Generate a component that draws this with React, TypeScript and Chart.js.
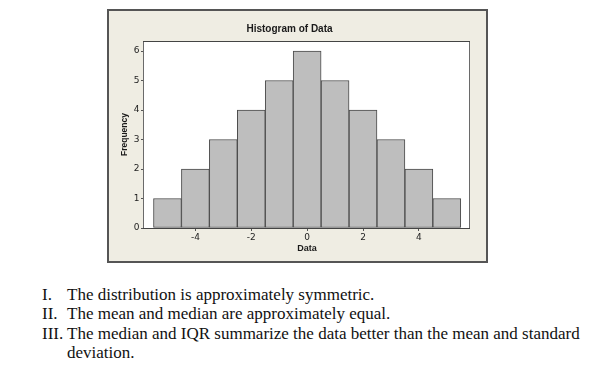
import React, { useEffect, useRef } from "react";
import { Chart, registerables } from "chart.js";

Chart.register(...registerables);

const binCenters = [-5, -4, -3, -2, -1, 0, 1, 2, 3, 4, 5];
const frequencies = [1, 2, 3, 4, 5, 6, 5, 4, 3, 2, 1];
const xTickValues = [-4, -2, 0, 2, 4];
const yTickValues = [0, 1, 2, 3, 4, 5, 6];
const chartTitle = "Histogram of Data";
const xTitle = "Data";
const yTitle = "Frequency";
const statements = [
  { num: "I.", lines: ["The distribution is approximately symmetric."] },
  { num: "II.", lines: ["The mean and median are approximately equal."] },
  {
    num: "III.",
    lines: [
      "The median and IQR summarize the data better than the mean and standard",
      "deviation.",
    ],
  },
];

const plotFrame = {
  id: "plotFrame",
  beforeDraw(chart: any) {
    const { ctx, chartArea } = chart;
    ctx.save();
    ctx.fillStyle = "#ffffff";
    ctx.fillRect(chartArea.left, chartArea.top, chartArea.right - chartArea.left, chartArea.bottom - chartArea.top);
    ctx.restore();
  },
  afterDraw(chart: any) {
    const { ctx, chartArea } = chart;
    ctx.save();
    ctx.strokeStyle = "#6a6a6a";
    ctx.lineWidth = 1;
    ctx.strokeRect(chartArea.left - 0.5, chartArea.top + 0.5, chartArea.right - chartArea.left, chartArea.bottom - chartArea.top);
    ctx.strokeStyle = "#444444";
    ctx.beginPath();
    ctx.moveTo(chartArea.left - 1, chartArea.top + 0.5);
    ctx.lineTo(chartArea.right, chartArea.top + 0.5);
    ctx.moveTo(chartArea.left - 1, chartArea.bottom + 0.5);
    ctx.lineTo(chartArea.right, chartArea.bottom + 0.5);
    ctx.stroke();
    ctx.restore();
  },
};

export default function App() {
  const ref = useRef<HTMLCanvasElement | null>(null);

  useEffect(() => {
    if (!ref.current) return;
    const chart = new Chart(ref.current, {
      type: "bar",
      data: {
        datasets: [
          {
            data: binCenters.map((x, i) => ({ x, y: frequencies[i] })),
            backgroundColor: "#bebebe",
            borderColor: "#4a4a4a",
            borderWidth: 1,
            borderSkipped: false,
            barPercentage: 1,
            categoryPercentage: 1,
          },
        ],
      },
      options: {
        animation: false,
        responsive: false,
        devicePixelRatio: 1,
        layout: { padding: { left: 0, right: 16, top: 0, bottom: 0 } },
        plugins: {
          legend: { display: false },
          tooltip: { enabled: false },
          title: {
            display: true,
            text: chartTitle,
            color: "#1a1a1a",
            font: { family: "'Liberation Sans', Arial, sans-serif", size: 10, weight: "bold" },
            padding: { top: 12, bottom: 6 },
          },
        },
        scales: {
          x: {
            type: "linear",
            min: -5.84,
            max: 5.83,
            offset: false,
            grid: { display: true, drawOnChartArea: false, drawTicks: true, tickLength: 3, color: "#555555", offset: false },
            border: { display: false },
            ticks: {
              color: "#222222",
              padding: 1,
              font: { family: "'DejaVu Sans', sans-serif", size: 9 },
            },
            afterBuildTicks: (axis: any) => {
              axis.ticks = xTickValues.map((v) => ({ value: v }));
            },
            afterFit: (axis: any) => {
              axis.height = 33;
            },
            title: {
              display: true,
              text: xTitle,
              color: "#1a1a1a",
              font: { family: "'Liberation Sans', Arial, sans-serif", size: 9, weight: "bold" },
              padding: { top: 0, bottom: 6.9 },
            },
          },
          y: {
            type: "linear",
            min: 0,
            max: 6.34,
            grid: { display: true, drawOnChartArea: false, drawTicks: true, tickLength: 3, color: "#555555" },
            border: { display: false },
            ticks: {
              color: "#222222",
              padding: 1.5,
              font: { family: "'DejaVu Sans', sans-serif", size: 9 },
            },
            afterBuildTicks: (axis: any) => {
              axis.ticks = yTickValues.map((v) => ({ value: v }));
            },
            afterFit: (axis: any) => {
              axis.width = 35;
            },
            title: {
              display: true,
              text: yTitle,
              color: "#1a1a1a",
              font: { family: "'Liberation Sans', Arial, sans-serif", size: 8.5, weight: "bold" },
              padding: { top: 10.9, bottom: 0 },
            },
          },
        },
      },
      plugins: [plotFrame],
    } as any);
    return () => chart.destroy();
  }, []);

  return (
    <div style={{ position: "relative", width: 600, height: 369, margin: -8, background: "#ffffff" }}>
      <div
        style={{
          position: "absolute",
          left: 107,
          top: 9,
          width: 381,
          height: 254,
          boxSizing: "border-box",
          border: "2px solid #555555",
          background: "#efede3",
        }}
      >
        <canvas ref={ref} width={377} height={250} style={{ display: "block", width: 377, height: 250 }} />
      </div>
      <div
        style={{
          position: "absolute",
          left: 0,
          top: 284.5,
          fontFamily: "'Liberation Serif', 'Times New Roman', serif",
          fontSize: 17,
          lineHeight: "19.5px",
          color: "#111111",
          whiteSpace: "nowrap",
        }}
      >
        {statements.map((s, i) => (
          <div key={i} style={{ position: "relative", paddingLeft: 67 }}>
            <span style={{ position: "absolute", left: 42 }}>{s.num}</span>
            {s.lines.map((l, j) => (
              <div key={j}>{l}</div>
            ))}
          </div>
        ))}
      </div>
    </div>
  );
}
